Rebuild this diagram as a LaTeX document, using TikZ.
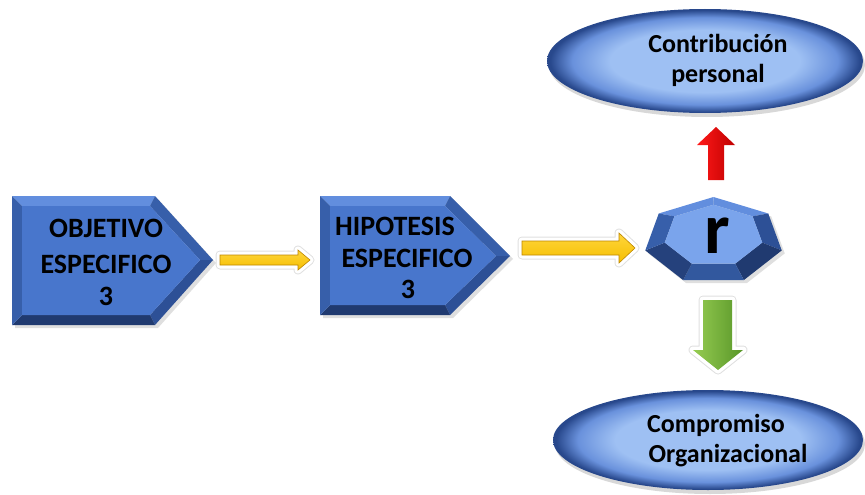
\documentclass[tikz,border=0pt]{standalone}
\usepackage{fontspec}
\setmainfont{Carlito}
\usetikzlibrary{shadings}
\definecolor{pmain}{RGB}{72,118,204}
\definecolor{ptop}{RGB}{98,142,222}
\definecolor{pleft}{RGB}{55,95,170}
\definecolor{pright}{RGB}{45,80,150}
\definecolor{pbot}{RGB}{32,58,112}
\definecolor{hinner}{RGB}{122,164,236}
\definecolor{ellLight}{RGB}{158,192,243}
\definecolor{ellMid}{RGB}{105,145,220}
\definecolor{ellDark}{RGB}{40,72,140}
\definecolor{yfill}{RGB}{245,190,0}
\definecolor{ylight}{RGB}{255,214,60}
\definecolor{yedge}{RGB}{190,135,0}
\definecolor{glight}{RGB}{150,204,82}
\definecolor{gdark}{RGB}{88,150,40}
\pgfdeclareradialshading{ellshade}{\pgfpoint{0bp}{0bp}}{color(0bp)=(ellLight); color(15bp)=(ellLight); color(21bp)=(ellMid); color(24.5bp)=(ellDark); color(50bp)=(ellDark)}
\tikzset{
  lbl/.style={font=\bfseries\fontsize{26}{30}\selectfont, anchor=base, inner sep=0pt},
  plbl/.style={font=\bfseries\fontsize{28}{30}\selectfont, anchor=base, inner sep=0pt},
  glow/.style={draw=black!12, line width=9pt, line join=round},
  glowin/.style={draw=white, line width=7pt, line join=round},
}
\begin{document}
\begin{tikzpicture}[x=1pt,y=-1pt]
\useasboundingbox (0,0) rectangle (865,495);
% ---------- Pentagon 1 ----------
\fill[black!25, opacity=0.5] (15,199) -- (158,199) -- (216,263) -- (158,328) -- (15,328) -- cycle;
\coordinate (A1) at (12,196); \coordinate (B1) at (155,196); \coordinate (C1) at (213,260);
\coordinate (D1) at (155,325); \coordinate (E1) at (12,325);
\coordinate (a1) at (22,206); \coordinate (b1) at (150,206); \coordinate (c1) at (200,260);
\coordinate (d1) at (150,315); \coordinate (e1) at (22,315);
\fill[ptop] (A1) -- (B1) -- (b1) -- (a1) -- cycle;
\fill[pleft] (B1) -- (C1) -- (c1) -- (b1) -- cycle;
\fill[pright] (C1) -- (D1) -- (d1) -- (c1) -- cycle;
\fill[pbot] (D1) -- (E1) -- (e1) -- (d1) -- cycle;
\fill[pleft] (E1) -- (A1) -- (a1) -- (e1) -- cycle;
\fill[pmain] (a1) -- (b1) -- (c1) -- (d1) -- (e1) -- cycle;
\node[plbl] (t1a) at (106,237) {OBJETIVO};
\node[plbl] (t1b) at (106,273) {ESPECIFICO};
\node[plbl] (t1c) at (106,305) {3};
% ---------- Pentagon 2 ----------
\fill[black!25, opacity=0.5] (323,199) -- (453,199) -- (513,259) -- (453,318) -- (323,318) -- cycle;
\coordinate (A2) at (320,196); \coordinate (B2) at (450,196); \coordinate (C2) at (510,256);
\coordinate (D2) at (450,315); \coordinate (E2) at (320,315);
\coordinate (a2) at (330,206); \coordinate (b2) at (445,206); \coordinate (c2) at (496,256);
\coordinate (d2) at (445,305); \coordinate (e2) at (330,305);
\fill[ptop] (A2) -- (B2) -- (b2) -- (a2) -- cycle;
\fill[pleft] (B2) -- (C2) -- (c2) -- (b2) -- cycle;
\fill[pright] (C2) -- (D2) -- (d2) -- (c2) -- cycle;
\fill[pbot] (D2) -- (E2) -- (e2) -- (d2) -- cycle;
\fill[pleft] (E2) -- (A2) -- (a2) -- (e2) -- cycle;
\fill[pmain] (a2) -- (b2) -- (c2) -- (d2) -- (e2) -- cycle;
\node[plbl] (t2a) at (395,235) {HIPOTESIS};
\node[plbl] (t2b) at (407,267) {ESPECIFICO};
\node[plbl] (t2c) at (408,298) {3};
% ---------- Yellow arrows ----------
\path[glow] (220,255) -- (298,255) -- (298,250) -- (310,260) -- (298,270) -- (298,265) -- (220,265) -- cycle;
\path[glowin] (220,255) -- (298,255) -- (298,250) -- (310,260) -- (298,270) -- (298,265) -- (220,265) -- cycle;
\shade[top color=ylight, bottom color=yfill, draw=yedge, line width=0.6pt] (220,255) -- (298,255) -- (298,250) -- (310,260) -- (298,270) -- (298,265) -- (220,265) -- cycle;
\path[glow] (522,241) -- (619,241) -- (619,233) -- (635,248) -- (619,263) -- (619,255) -- (522,255) -- cycle;
\path[glowin] (522,241) -- (619,241) -- (619,233) -- (635,248) -- (619,263) -- (619,255) -- (522,255) -- cycle;
\shade[top color=ylight, bottom color=yfill, draw=yedge, line width=0.6pt] (522,241) -- (619,241) -- (619,233) -- (635,248) -- (619,263) -- (619,255) -- (522,255) -- cycle;
% ---------- Heptagon ----------
\begin{scope}[shift={(713.5,240.7)}]
\foreach \i [evaluate=\i as \ang using 90-\i*360/7] in {0,...,6} {
  \coordinate (H\i) at ({70*cos(\ang)},{-43.7*sin(\ang)});
  \coordinate (h\i) at ({50*cos(\ang)},{-31*sin(\ang)-5});
}
\end{scope}
\fill[black!25, opacity=0.5] ([shift={(3,3)}]H0) -- ([shift={(3,3)}]H1) -- ([shift={(3,3)}]H2) -- ([shift={(3,3)}]H3) -- ([shift={(3,3)}]H4) -- ([shift={(3,3)}]H5) -- ([shift={(3,3)}]H6) -- cycle;
\fill[ptop] (H6) -- (H0) -- (h0) -- (h6) -- cycle;
\fill[ptop] (H0) -- (H1) -- (h1) -- (h0) -- cycle;
\fill[pright] (H1) -- (H2) -- (h2) -- (h1) -- cycle;
\fill[pbot] (H2) -- (H3) -- (h3) -- (h2) -- cycle;
\fill[pleft!80!pbot] (H3) -- (H4) -- (h4) -- (h3) -- cycle;
\fill[pbot!80!pleft] (H4) -- (H5) -- (h5) -- (h4) -- cycle;
\fill[pleft] (H5) -- (H6) -- (h6) -- (h5) -- cycle;
\fill[hinner] (h0) -- (h1) -- (h2) -- (h3) -- (h4) -- (h5) -- (h6) -- cycle;
\node[font=\bfseries\fontsize{72}{72}\selectfont, anchor=base, inner sep=0pt] (r) at (717,253) {r};
% ---------- Red arrow (up) ----------
\shade[left color=red!90!white, right color=red!75!black] (708,180) -- (708,145) -- (697,145) -- (716,127) -- (735,145) -- (724,145) -- (724,180) -- cycle;
% ---------- Green arrow (down) ----------
\path[glow] (703,300) -- (732,300) -- (732,350) -- (743,350) -- (718,370) -- (693,350) -- (703,350) -- cycle;
\path[glowin] (703,300) -- (732,300) -- (732,350) -- (743,350) -- (718,370) -- (693,350) -- (703,350) -- cycle;
\shade[left color=glight, right color=gdark] (703,300) -- (732,300) -- (732,350) -- (743,350) -- (718,370) -- (693,350) -- (703,350) -- cycle;
% ---------- Ellipses ----------
\fill[black!30, opacity=0.5] (707,65) ellipse [x radius=158, y radius=52];
\shade[shading=ellshade] (705,61) ellipse [x radius=158, y radius=52];
\node[lbl] (e1a) at (718,53) {Contribución};
\node[lbl] (e1b) at (718,83) {personal};
\fill[black!30, opacity=0.5] (710,444) ellipse [x radius=155, y radius=50];
\shade[shading=ellshade] (708,440) ellipse [x radius=155, y radius=50];
\node[lbl] (e2a) at (716,432) {Compromiso};
\node[lbl] (e2b) at (728,462) {Organizacional};
\end{tikzpicture}
\end{document}
